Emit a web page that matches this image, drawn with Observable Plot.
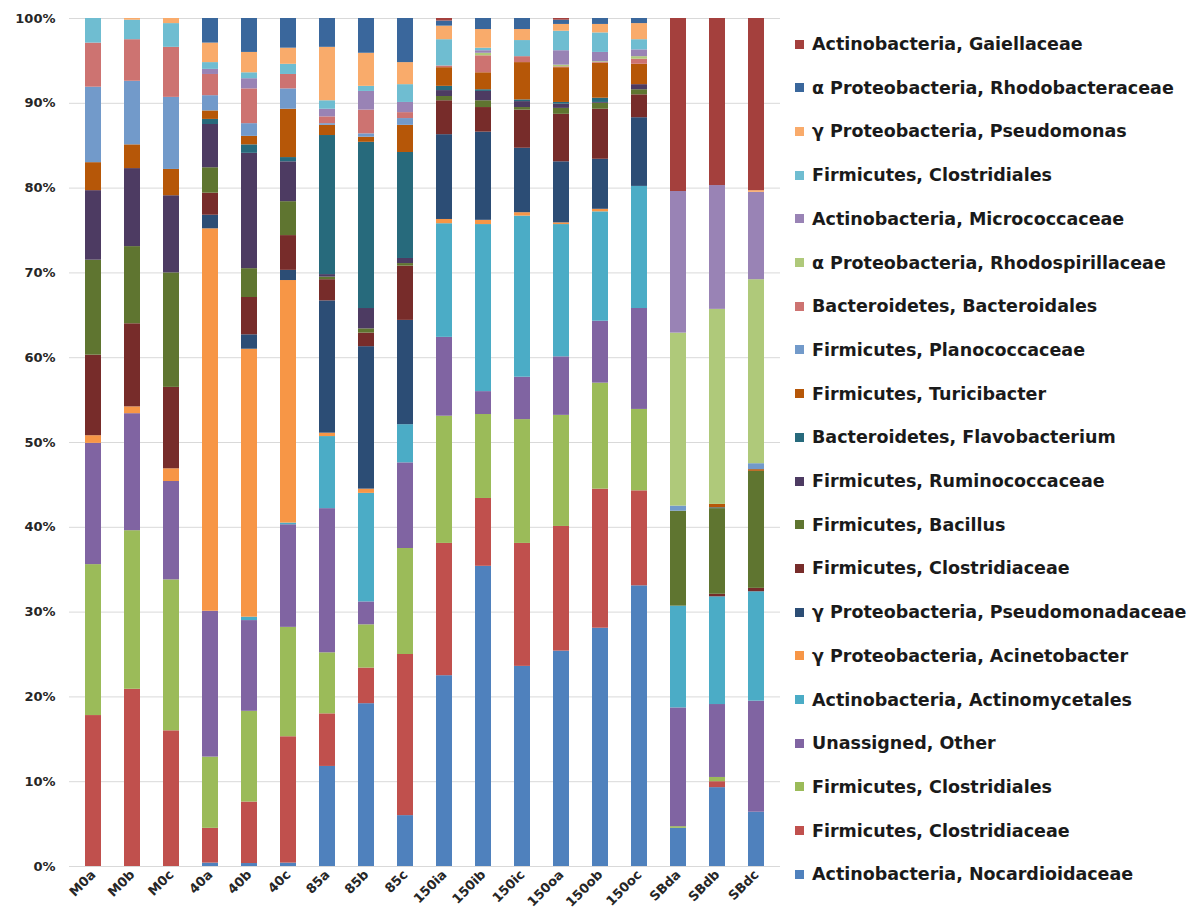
<!DOCTYPE html>
<html><head><meta charset="utf-8">
<script src="https://cdn.jsdelivr.net/npm/d3@7"></script>
<script src="https://cdn.jsdelivr.net/npm/@observablehq/plot@0.6"></script>
<style>
body{margin:0;background:#fff;font-family:"DejaVu Sans",sans-serif;}
#wrap{position:relative;width:1191px;height:922px;background:#fff;}
#chart{position:absolute;left:0;top:0;}
#legend{position:absolute;left:795px;top:0;}
.item{position:absolute;left:0;height:20px;display:flex;align-items:center;white-space:nowrap;font-weight:bold;font-size:17.5px;color:#1a1a1a;}
.sw{width:9px;height:9px;margin-right:8px;flex:none;}
</style></head>
<body>
<div id="wrap"><div id="chart"></div><div id="legend"></div></div>
<script>
const samples = ["M0a","M0b","M0c","40a","40b","40c","85a","85b","85c","150ia","150ib","150ic","150oa","150ob","150oc","SBda","SBdb","SBdc"];

// series, bottom of stack first
const seriesKeys = ["noc","clost","clostr","other","actino","acin","pdae","clost2","bacillus","rumin","flavo","turici","planoc","bacteroid","rhodosp","microc","clostr2","pseudomonas","rhodob","gaiell"];
const seriesLabels = [
  "Actinobacteria, Nocardioidaceae",
  "Firmicutes, Clostridiaceae",
  "Firmicutes, Clostridiales",
  "Unassigned, Other",
  "Actinobacteria, Actinomycetales",
  "γ Proteobacteria, Acinetobacter",
  "γ Proteobacteria, Pseudomonadaceae",
  "Firmicutes, Clostridiaceae",
  "Firmicutes, Bacillus",
  "Firmicutes, Ruminococcaceae",
  "Bacteroidetes, Flavobacterium",
  "Firmicutes, Turicibacter",
  "Firmicutes, Planococcaceae",
  "Bacteroidetes, Bacteroidales",
  "α Proteobacteria, Rhodospirillaceae",
  "Actinobacteria, Micrococcaceae",
  "Firmicutes, Clostridiales",
  "γ Proteobacteria, Pseudomonas",
  "α Proteobacteria, Rhodobacteraceae",
  "Actinobacteria, Gaiellaceae"
];
const seriesColors = ["#4F81BD","#C0504D","#9BBB59","#8064A2","#4BACC6","#F79646","#2C4D75","#772C2A","#5F7530","#4D3B62","#276A7C","#B65708","#729ACA","#CD7371","#AFC97A","#9983B5","#6FBDD1","#F9AB6B","#3A679C","#A4403D"];

// percentages per sample (same order as samples)
const noc         = [0,0,0,0.4,0.35,0.4,11.8,19.2,6.0,22.5,35.4,23.6,25.4,28.1,33.1,4.5,9.3,6.4];
const clost       = [17.8,20.9,16.0,4.1,7.25,14.9,6.2,4.2,19.0,15.6,8.0,14.5,14.7,16.4,11.2,0,0.7,0];
const clostr      = [17.8,18.7,17.8,8.4,10.7,12.9,7.2,5.1,12.5,15.0,9.9,14.6,13.1,12.5,9.6,0.2,0.5,0];
const other       = [14.3,13.8,11.6,17.2,10.7,12.1,17.0,2.7,10.1,9.3,2.7,5.0,6.9,7.3,11.9,14.0,8.6,13.1];
const actino      = [0,0,0,0,0.4,0.2,8.5,12.8,4.5,13.4,19.7,19.0,15.6,12.9,14.4,12.0,12.7,12.9];
const acin        = [0.9,0.8,1.5,45.1,31.6,28.6,0.4,0.5,0,0.5,0.5,0.4,0.2,0.3,0,0,0,0];
const pdae        = [0,0,0,1.6,1.7,1.2,15.6,16.8,12.3,10.0,10.4,7.6,7.2,5.9,8.1,0,0,0];
const clost2      = [9.5,9.8,9.6,2.6,4.4,4.1,2.5,1.6,6.4,4.0,2.9,4.5,5.6,5.9,2.7,0,0.3,0.4];
const bacillus    = [11.2,9.1,13.5,3.0,3.4,4.0,0.3,0.5,0.3,0.5,0.8,0.3,0.7,0.7,0.6,11.2,10.1,13.8];
const rumin       = [8.2,9.2,9.1,5.1,13.6,4.7,0.3,2.4,0.6,0.7,1.1,0.7,0.5,0.1,0.6,0,0,0];
const flavo       = [0,0,0,0.6,1.0,0.5,16.4,19.6,12.5,0.5,0.2,0.2,0.2,0.5,0,0,0.1,0];
const turici      = [3.3,2.8,3.1,1.0,1.0,5.7,1.2,0.6,3.2,2.2,2.0,4.4,4.1,4.1,2.4,0,0.4,0.2];
const planoc      = [8.9,7.5,8.5,1.8,1.5,2.4,0.2,0.4,0.8,0,0,0,0,0,0,0.6,0,0.7];
const bacteroid   = [5.2,4.9,5.9,2.5,4.1,1.7,0.8,2.8,0.7,0.2,2.0,0.7,0.1,0.1,0.6,0,0,0];
const rhodosp     = [0,0,0,0,0,0,0,0,0,0,0.3,0,0.2,0.1,0.3,20.4,23.0,21.7];
const microc      = [0,0,0,0.6,1.2,0,0.9,2.2,1.2,0,0.3,0,1.7,1.1,0.8,16.7,14.6,10.3];
const clostr2     = [2.9,2.3,2.8,0.8,0.7,1.2,1.0,0.6,2.1,3.1,0.3,1.9,2.3,2.3,1.2,0,0,0];
const pseudomonas = [0,0.2,0.6,2.3,2.4,1.9,6.3,3.9,2.6,1.6,2.2,1.3,0.8,1.0,1.9,0,0,0.2];
const rhodob      = [0,0,0,2.9,4.0,3.5,3.4,4.1,5.2,0.6,1.3,1.3,0.5,0.7,0.6,0,0,0];
const gaiell      = [0,0,0,0,0,0,0,0,0,0.3,0,0,0.2,0,0,20.4,19.7,20.3];

const yTicks = [0,10,20,30,40,50,60,70,80,90,100];

const seriesValues = [noc,clost,clostr,other,actino,acin,pdae,clost2,bacillus,rumin,flavo,turici,planoc,bacteroid,rhodosp,microc,clostr2,pseudomonas,rhodob,gaiell];

const rows = [];
samples.forEach((s, i) => {
  seriesKeys.forEach((k, j) => {
    rows.push({sample: s, key: k, value: seriesValues[j][i]});
  });
});

const chart = Plot.plot({
  width: 790,
  height: 922,
  marginTop: 18,
  marginBottom: 56,
  marginLeft: 69,
  marginRight: 10,
  style: {fontFamily: "DejaVu Sans", fontWeight: "bold", fontSize: "13px", color: "#262626", background: "#fff"},
  x: {domain: samples, paddingInner: 0.6, paddingOuter: 0.3, label: null},
  y: {domain: [0, 100], label: null},
  color: {domain: seriesKeys, range: seriesColors},
  marks: [
    Plot.gridY(yTicks, {stroke: "#d9d9d9", strokeOpacity: 1}),
    Plot.barY(rows, {x: "sample", y: "value", fill: "key", order: seriesKeys}),
    Plot.axisY(yTicks, {tickSize: 0, tickPadding: 14, tickFormat: d => d + "%", label: null}),
    Plot.axisX({tickSize: 0, tickRotate: -45, tickPadding: 6, label: null})
  ]
});
document.getElementById("chart").appendChild(chart);

const legend = document.getElementById("legend");
for (let j = seriesKeys.length - 1; j >= 0; j--) {
  const idx = seriesKeys.length - 1 - j;
  const item = document.createElement("div");
  item.className = "item";
  item.style.top = (44 + idx * 43.7 - 10) + "px";
  const sw = document.createElement("span");
  sw.className = "sw";
  sw.style.background = seriesColors[j];
  const tx = document.createElement("span");
  tx.textContent = seriesLabels[j];
  item.appendChild(sw);
  item.appendChild(tx);
  legend.appendChild(item);
}
</script>
</body></html>
